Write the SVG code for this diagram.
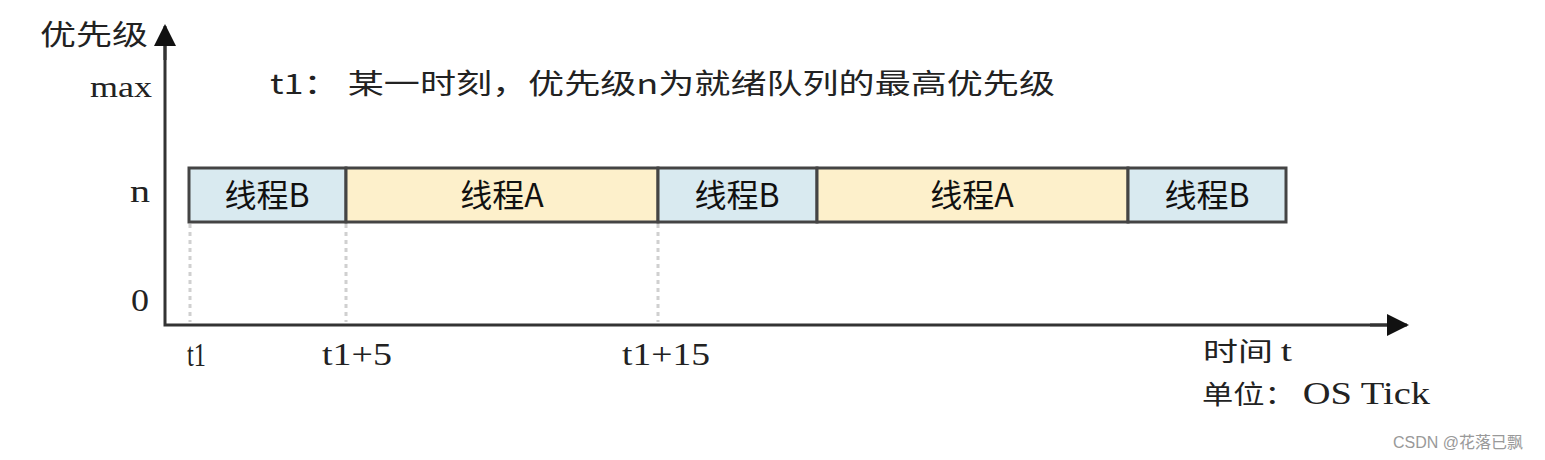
<svg xmlns="http://www.w3.org/2000/svg" width="1545" height="460" viewBox="0 0 1545 460">
<style>
.cjk{font-family:"Noto Sans CJK SC","Liberation Serif",serif;fill:#222;}
.lat{font-family:"Liberation Serif","Noto Sans CJK SC",serif;fill:#222;}
.box{stroke:#444;stroke-width:3;}
.b{fill:#d9eaf0;}
.a{fill:#fdf0cb;}
.blab{font-family:"Noto Sans CJK SC",sans-serif;font-size:32px;fill:#111;text-anchor:middle;}
.axis{stroke:#333;stroke-width:3;fill:none;}
.guide{stroke:#d0d0d0;stroke-width:3;stroke-dasharray:4 4;}
</style>
<defs>
<marker id="ah" markerUnits="userSpaceOnUse" markerWidth="22" markerHeight="22" refX="20" refY="11" orient="auto">
<path d="M0,0 L22,11 L0,22 Z" fill="#111"/>
</marker>
</defs>
<rect width="1545" height="460" fill="#fff"/>
<g id="guides">
<line class="guide" x1="190" y1="224" x2="190" y2="322"/>
<line class="guide" x1="346" y1="224" x2="346" y2="322"/>
<line class="guide" x1="658" y1="224" x2="658" y2="322"/>
</g>
<g id="connectors">
<polyline class="axis" points="165,45 165,325 1387,325"/>
<line class="axis" x1="165" y1="60" x2="165" y2="26" marker-end="url(#ah)"/>
<line class="axis" x1="1370" y1="325" x2="1407" y2="325" marker-end="url(#ah)"/>
</g>
<g id="labels">
<text class="cjk" x="40" y="45" font-size="28" textLength="108" lengthAdjust="spacingAndGlyphs">优先级</text>
<text class="lat" x="90" y="97" font-size="30" textLength="62" lengthAdjust="spacingAndGlyphs">max</text>
<text class="lat" x="130" y="202" font-size="32" textLength="20" lengthAdjust="spacingAndGlyphs">n</text>
<text class="lat" x="131" y="311" font-size="32" textLength="18" lengthAdjust="spacingAndGlyphs">0</text>
<text class="cjk" x="270" y="94" font-size="28" textLength="785" lengthAdjust="spacingAndGlyphs">t1：  某一时刻，优先级n为就绪队列的最高优先级</text>
<text class="lat" x="187" y="366" font-size="34" textLength="19" lengthAdjust="spacingAndGlyphs">t1</text>
<text class="lat" x="322" y="365" font-size="32" textLength="70" lengthAdjust="spacingAndGlyphs">t1+5</text>
<text class="lat" x="622" y="365" font-size="32" textLength="88" lengthAdjust="spacingAndGlyphs">t1+15</text>
<text class="cjk" x="1203" y="361" font-size="26" textLength="89" lengthAdjust="spacingAndGlyphs">时间 <tspan class="lat" font-size="30">t</tspan></text>
<text class="cjk" x="1202" y="404" font-size="26" textLength="228" lengthAdjust="spacingAndGlyphs">单位： <tspan class="lat" font-size="32">OS Tick</tspan></text>
<text x="1393" y="448" font-family="'Liberation Sans','Noto Sans CJK SC',sans-serif" font-size="16" fill="#999">CSDN @花落已飘</text>
</g>
<g id="node-b1"><rect class="box b" x="189" y="168" width="157" height="54"/><text class="blab" x="267" y="207">线程B</text></g>
<g id="node-a1"><rect class="box a" x="346" y="168" width="312" height="54"/><text class="blab" x="502" y="207">线程A</text></g>
<g id="node-b2"><rect class="box b" x="658" y="168" width="159" height="54"/><text class="blab" x="737" y="207">线程B</text></g>
<g id="node-a2"><rect class="box a" x="817" y="168" width="311" height="54"/><text class="blab" x="972" y="207">线程A</text></g>
<g id="node-b3"><rect class="box b" x="1128" y="168" width="158" height="54"/><text class="blab" x="1207" y="207">线程B</text></g>
</svg>
